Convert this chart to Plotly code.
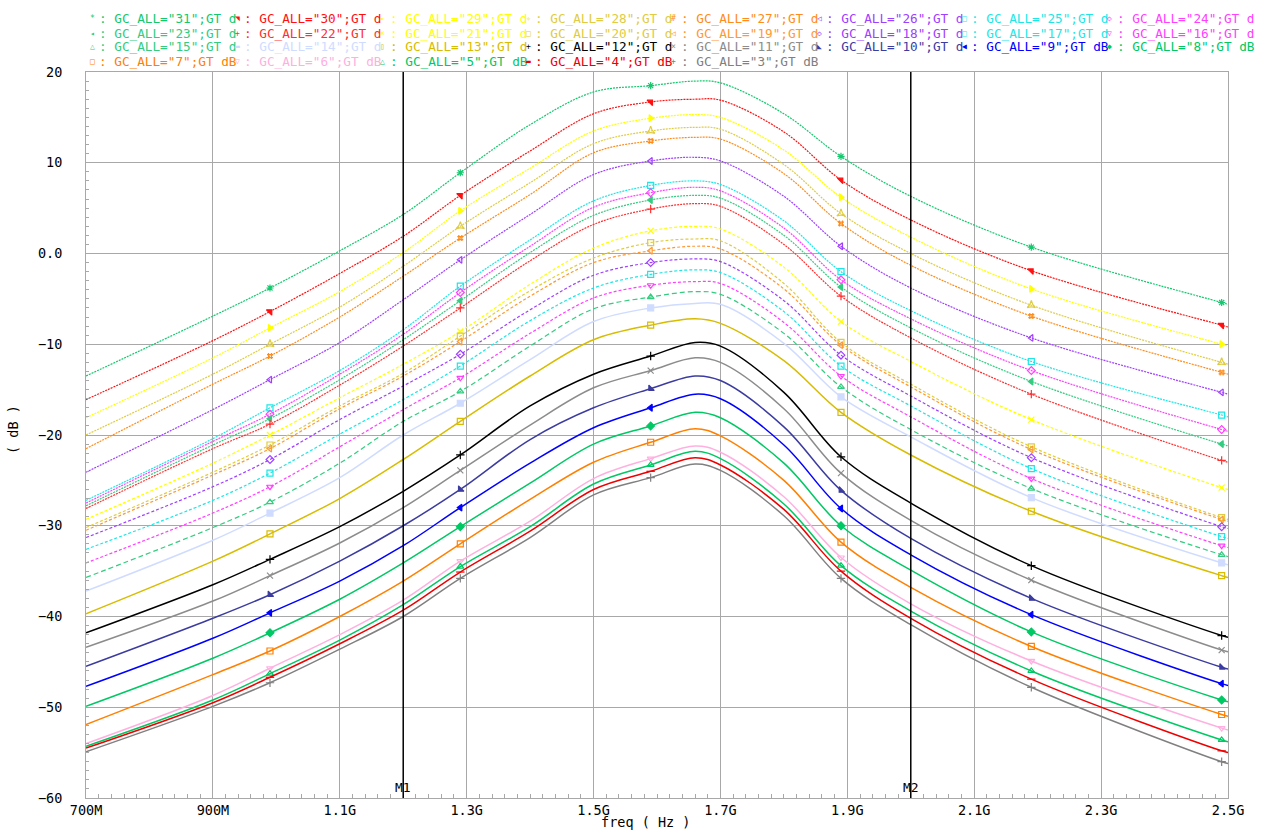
import plotly.graph_objects as go

# ---------------- data ----------------
FREQ_MHZ = [700, 900, 990, 1100, 1200, 1290, 1400, 1500, 1590, 1660, 1700, 1800, 1890, 2000, 2190, 2490, 2500]
MARKER_FREQ_MHZ = [990, 1290, 1590, 1890, 2190, 2490]

GC_LABELS = ["31", "30", "29", "28", "27", "26", "25", "24",
             "23", "22", "21", "20", "19", "18", "17", "16",
             "15", "14", "13", "12", "11", "10", "9", "8",
             "7", "6", "5", "4", "3"]

gc31 = [-13.5, -6.9, -3.8, 0.3, 4.3, 8.9, 14.2, 17.8, 18.5, 19.0, 18.8, 15.4, 10.7, 6.3, 0.7, -5.4, -5.6]
gc30 = [-16.1, -9.6, -6.4, -2.2, 1.9, 6.4, 11.3, 15.4, 16.7, 17.0, 16.9, 13.4, 8.1, 3.7, -1.9, -7.9, -8.1]
gc29 = [-18.1, -11.5, -8.2, -4.2, 0.1, 4.7, 9.4, 13.5, 14.9, 15.3, 15.0, 11.4, 6.2, 1.8, -3.9, -10.0, -10.2]
gc28 = [-20.0, -13.3, -10.0, -5.9, -1.4, 3.0, 7.8, 12.1, 13.5, 13.9, 13.7, 9.8, 4.4, 0.0, -5.7, -12.0, -12.2]
gc27 = [-21.5, -14.4, -11.3, -7.0, -2.5, 1.7, 6.5, 11.1, 12.4, 12.8, 12.6, 8.8, 3.3, -1.3, -6.9, -13.1, -13.3]
gc26 = [-24.1, -17.2, -13.9, -9.8, -5.1, -0.7, 4.3, 8.7, 10.2, 10.6, 10.2, 6.3, 0.8, -3.8, -9.3, -15.3, -15.5]
gc25 = [-27.2, -20.4, -17.0, -12.9, -8.4, -3.6, 1.5, 5.8, 7.5, 8.0, 7.6, 3.6, -2.0, -6.3, -11.9, -17.8, -18.0]
gc24 = [-27.5, -20.7, -17.7, -13.3, -8.9, -4.3, 0.8, 5.1, 6.7, 7.3, 6.9, 2.8, -2.9, -7.2, -12.9, -19.4, -19.6]
gc23 = [-27.8, -21.1, -18.2, -13.9, -9.5, -5.2, 0.1, 4.2, 5.9, 6.4, 6.1, 2.0, -3.7, -8.2, -14.1, -21.0, -21.2]
gc22 = [-28.1, -21.5, -18.8, -14.5, -10.2, -6.0, -0.8, 3.2, 4.9, 5.5, 5.2, 1.0, -4.7, -9.3, -15.5, -22.8, -23.0]
gc21 = [-29.3, -23.1, -20.0, -15.9, -12.2, -8.6, -3.4, 0.6, 2.5, 3.0, 2.7, -1.5, -7.5, -11.9, -18.3, -25.8, -26.0]
gc20 = [-30.2, -24.1, -21.1, -16.8, -13.2, -9.1, -4.1, -0.5, 1.2, 1.6, 1.4, -3.3, -9.8, -14.4, -21.3, -29.1, -29.3]
gc19 = [-30.5, -24.4, -21.5, -17.1, -13.5, -9.7, -4.7, -1.0, 0.3, 0.8, 0.5, -3.9, -10.1, -14.7, -21.6, -29.3, -29.5]
gc18 = [-31.3, -25.7, -22.7, -18.3, -14.6, -11.1, -6.2, -2.4, -1.0, -0.6, -0.9, -5.2, -11.2, -15.7, -22.5, -30.1, -30.3]
gc17 = [-32.6, -27.2, -24.2, -19.9, -16.1, -12.4, -7.4, -3.8, -2.3, -1.8, -2.1, -6.4, -12.4, -16.8, -23.7, -31.2, -31.4]
gc16 = [-34.1, -28.6, -25.7, -21.3, -17.2, -13.7, -8.8, -4.9, -3.5, -3.1, -3.3, -7.6, -13.5, -18.0, -24.8, -32.2, -32.4]
gc15 = [-35.7, -30.2, -27.4, -23.1, -18.5, -15.2, -10.2, -6.1, -4.8, -4.2, -4.5, -8.8, -14.7, -19.4, -25.9, -33.2, -33.4]
gc14 = [-37.2, -31.6, -28.6, -24.7, -20.0, -16.5, -11.7, -7.5, -6.0, -5.5, -5.6, -9.9, -15.8, -20.2, -26.9, -34.1, -34.3]
gc13 = [-39.7, -33.9, -30.9, -27.0, -22.7, -18.5, -13.5, -9.5, -7.9, -7.2, -7.7, -11.8, -17.5, -22.2, -28.4, -35.5, -35.7]
gc12 = [-41.8, -36.5, -33.7, -30.1, -26.2, -22.2, -16.8, -13.3, -11.3, -9.8, -10.2, -15.3, -22.4, -27.5, -34.4, -42.1, -42.3]
gc11 = [-43.4, -38.3, -35.5, -31.9, -28.0, -23.9, -18.9, -14.8, -12.9, -11.5, -12.0, -17.1, -24.2, -29.4, -36.0, -43.7, -43.9]
gc10 = [-45.5, -40.2, -37.6, -33.9, -30.0, -26.0, -20.5, -17.0, -14.9, -13.5, -14.0, -19.1, -26.1, -31.4, -38.0, -45.6, -45.8]
gc9 = [-47.7, -42.4, -39.6, -36.1, -32.2, -28.0, -23.1, -19.2, -17.0, -15.5, -16.0, -21.1, -28.1, -33.2, -39.8, -47.4, -47.6]
gc8 = [-49.9, -44.6, -41.8, -38.1, -34.1, -30.1, -25.3, -21.0, -19.0, -17.5, -18.1, -23.1, -30.0, -34.9, -41.7, -49.2, -49.4]
gc7 = [-51.9, -46.4, -43.8, -40.0, -36.1, -32.0, -27.1, -23.0, -20.8, -19.3, -20.1, -25.0, -31.8, -36.8, -43.3, -50.8, -51.0]
gc6 = [-54.0, -48.7, -45.7, -42.0, -38.2, -33.9, -29.5, -24.8, -22.6, -21.2, -21.9, -26.8, -33.5, -38.6, -44.9, -52.3, -52.5]
gc5 = [-54.3, -49.2, -46.3, -42.6, -38.7, -34.5, -30.1, -25.4, -23.3, -21.8, -22.6, -27.6, -34.4, -39.4, -46.0, -53.6, -53.8]
gc4 = [-54.5, -49.5, -46.7, -43.0, -39.3, -35.1, -30.6, -26.0, -24.0, -22.5, -23.3, -28.2, -35.0, -40.2, -46.9, -54.8, -55.0]
gc3 = [-54.9, -49.9, -47.3, -43.6, -40.0, -35.8, -31.3, -26.6, -24.7, -23.2, -23.9, -28.9, -35.8, -40.9, -47.8, -56.0, -56.2]

SERIES = [gc31, gc30, gc29, gc28, gc27, gc26, gc25, gc24,
          gc23, gc22, gc21, gc20, gc19, gc18, gc17, gc16,
          gc15, gc14, gc13, gc12, gc11, gc10, gc9, gc8,
          gc7, gc6, gc5, gc4, gc3]

X_TICK_MHZ = [700, 900, 1100, 1300, 1500, 1700, 1900, 2100, 2300, 2500]
X_TICK_TEXT = ["700M", "900M", "1.1G", "1.3G", "1.5G", "1.7G", "1.9G", "2.1G", "2.3G", "2.5G"]
Y_TICK_VALS = [20, 10, 0, -10, -20, -30, -40, -50, -60]
Y_TICK_TEXT = ["20", "10", "0.0", "\u221210", "\u221220", "\u221230", "\u221240", "\u221250", "\u221260"]

MARKER_LINE_MHZ = [1200, 2000]
MARKER_LINE_NAMES = ["M1", "M2"]

# ---------------- styles ----------------
COLORS = ["#14c86e", "#ff1010", "#ffff00", "#e0cc40", "#ff8c1a", "#a040ff", "#1ee6e6", "#ff40ff",
          "#33cc80", "#ff3030", "#ffff00", "#e0cc40", "#ff9933", "#a040ff", "#1ee6e6", "#ff40ff",
          "#33cc80", "#d0dcff", "#d8bc00", "#000000", "#8c8c8c", "#3c3ca0", "#0000ff", "#00c864",
          "#ff8000", "#ffb0e0", "#00c864", "#ee0000", "#808080"]
SYMBOLS = ["asterisk-open", "triangle-ne", "triangle-right", "star-triangle-up-open", "hash-open",
           "triangle-left-open", "square-open", "diamond-open",
           "triangle-left", "cross-thin-open", "x-thin-open", "square-open", "triangle-left-open",
           "diamond-open", "square-open", "triangle-down-open",
           "triangle-up-open", "square", "square-open", "cross-thin-open", "x-thin-open",
           "triangle-sw", "triangle-left", "diamond",
           "square-open", "triangle-down-open", "triangle-up-open", "line-ew-open", "cross-thin-open"]
GLYPHS = ["*", "\u25e5", "\u25b8", "\u2727", "#", "\u25c1", "\u25a1", "\u25c7",
          "\u25c2", "+", "\u00d7", "\u25a1", "\u25c1", "\u25c7", "\u25a1", "\u25bd",
          "\u25b3", "\u25ac", "\u25af", "+", "\u00d7", "\u25e3", "\u25c0", "\u25c6",
          "\u25a1", "\u25bd", "\u25b3", "\u25ac", "+"]


def dash_for(i):
    if i < 10:
        return "2px,1px"
    if i < 16:
        return "3px,2px"
    if i == 16:
        return "5px,3px"
    return "solid"


FONT = "DejaVu Sans Mono"
W, H = 1267, 831
L, R, T, B = 86, 39, 72, 33
PW, PH = W - L - R, H - T - B

fig = go.Figure()
for i, (lab, ys) in enumerate(zip(GC_LABELS, SERIES)):
    xs = [f * 1e6 for f in FREQ_MHZ]
    solid = dash_for(i) == "solid"
    fig.add_trace(go.Scatter(
        x=xs, y=ys, mode="lines", name='GC_ALL="%s";GT dB' % lab,
        line=dict(color=COLORS[i], width=1.5 if solid else 1.2, dash=dash_for(i),
                  shape="spline", smoothing=1.0),
        showlegend=False, hoverinfo="skip"))
    mx = [f * 1e6 for f in MARKER_FREQ_MHZ]
    my = [ys[FREQ_MHZ.index(f)] for f in MARKER_FREQ_MHZ]
    fig.add_trace(go.Scatter(
        x=mx, y=my, mode="markers", showlegend=False, hoverinfo="skip",
        marker=dict(symbol=SYMBOLS[i], size=6, color=COLORS[i],
                    line=dict(color=COLORS[i], width=1.2))))

# marker lines M1 / M2
for f, nm in zip(MARKER_LINE_MHZ, MARKER_LINE_NAMES):
    fig.add_shape(type="line", xref="x", yref="paper", x0=f * 1e6, x1=f * 1e6, y0=0, y1=1,
                  line=dict(color="black", width=1.5))
    fig.add_annotation(x=f * 1e6, xref="x", y=11 / PH, yref="paper", text=nm,
                       showarrow=False, font=dict(family=FONT, size=13, color="black"),
                       xanchor="center", yanchor="middle")


def px2x(px):
    return (px - L) / PW


def py2y(py):
    return (H - B - py) / PH


# custom legend (4 rows, 8 columns)
for i, lab in enumerate(GC_LABELS):
    row, col = divmod(i, 8)
    gx = 92 + col * 145.4
    gy = 19 + row * 14
    fig.add_annotation(x=px2x(gx), y=py2y(gy), xref="paper", yref="paper", text=GLYPHS[i],
                       showarrow=False, xanchor="center", yanchor="middle",
                       font=dict(family=FONT, size=8, color=COLORS[i]))
    txt = (': GC_ALL="%s";GT dB' % lab)[:18]
    fig.add_annotation(x=px2x(gx + 5), y=py2y(gy), xref="paper", yref="paper", text=txt,
                       showarrow=False, xanchor="left", yanchor="middle",
                       font=dict(family=FONT, size=12.7, color=COLORS[i]))

# axis titles
fig.add_annotation(x=px2x(13), y=py2y(430), xref="paper", yref="paper", text="( dB )",
                   textangle=-90, showarrow=False, xanchor="center", yanchor="middle",
                   font=dict(family=FONT, size=13.5, color="black"))
fig.add_annotation(x=px2x(645), y=py2y(822), xref="paper", yref="paper", text="freq ( Hz )",
                   showarrow=False, xanchor="center", yanchor="middle",
                   font=dict(family=FONT, size=13.5, color="black"))

GRID = "#a8a8a8"
fig.update_xaxes(range=[700e6, 2500e6], tickmode="array",
                 tickvals=[v * 1e6 for v in X_TICK_MHZ], ticktext=X_TICK_TEXT,
                 showgrid=True, gridcolor=GRID, gridwidth=1, zeroline=False,
                 showline=True, linecolor=GRID, linewidth=1, mirror=True,
                 ticks="inside", ticklen=5, tickcolor=GRID, ticklabelstandoff=0,
                 minor=dict(tickmode="linear", tick0=700e6, dtick=20e6, ticks="inside",
                            ticklen=4, tickcolor=GRID, showgrid=False),
                 tickfont=dict(family=FONT, size=13.5, color="black"))
fig.update_yaxes(range=[-60, 20], tickmode="array", tickvals=Y_TICK_VALS, ticktext=Y_TICK_TEXT,
                 showgrid=True, gridcolor=GRID, gridwidth=1, zeroline=False,
                 showline=True, linecolor=GRID, linewidth=1, mirror=True,
                 ticks="inside", ticklen=5, tickcolor=GRID, ticklabelstandoff=20,
                 minor=dict(tickmode="linear", tick0=0, dtick=1, ticks="inside",
                            ticklen=3, tickcolor=GRID, showgrid=False),
                 tickfont=dict(family=FONT, size=13.5, color="black"))

fig.update_layout(width=W, height=H, margin=dict(l=L, r=R, t=T, b=B, pad=0),
                  paper_bgcolor="white", plot_bgcolor="white",
                  font=dict(family=FONT), showlegend=False)

fig.write_html("out.html")
